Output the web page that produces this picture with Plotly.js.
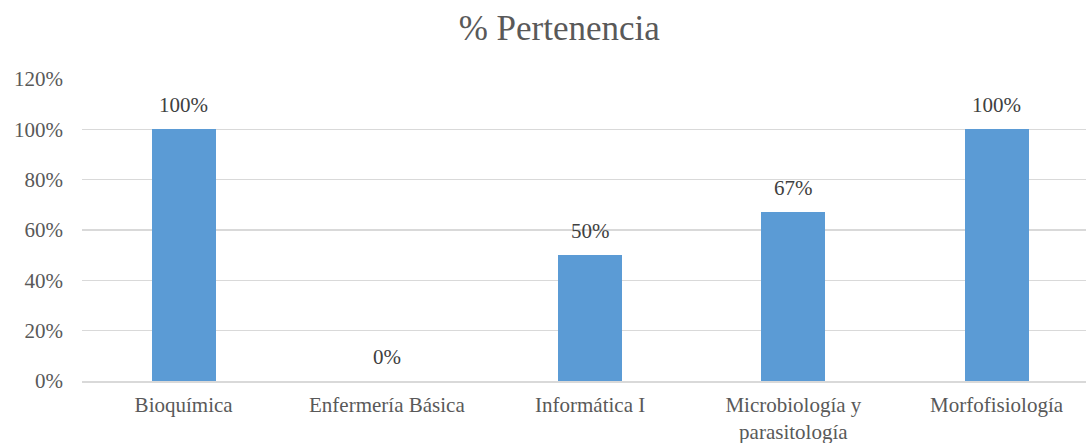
<!DOCTYPE html>
<html><head><meta charset="utf-8">
<script src="https://cdn.plot.ly/plotly-3.0.1.min.js"></script>
<style>body{margin:0;background:#fff}#c{width:1086px;height:443px}</style>
</head><body><div id="c"></div>
<script>
const categories = ["Bioquímica", "Enfermería Básica", "Informática I", "Microbiología y<br>parasitología", "Morfofisiología"];
const values = [1.00, 0.00, 0.50, 0.67, 1.00];
const labels = ["100%", "0%", "50%", "67%", "100%"];
const tickVals = [0, 0.2, 0.4, 0.6, 0.8, 1.0, 1.2];
const tickText = ["0%", "20%", "40%", "60%", "80%", "100%", "120%"];

const font = "Liberation Serif";
const xs = categories.map((_, i) => i);
Plotly.newPlot("c", [{
  type: "bar",
  x: xs,
  y: values,
  marker: {color: "#5b9bd5"},
  width: 0.315,
  hoverinfo: "none"
}], {
  width: 1086, height: 443,
  margin: {l: 82, r: 0, t: 79, b: 62},
  paper_bgcolor: "#fff", plot_bgcolor: "#fff",
  showlegend: false,
  title: {text: "% Pertenencia", font: {family: font, size: 35, color: "#595959"}, x: 0.515, xanchor: "center", y: 0.937, yanchor: "middle"},
  annotations: xs.map((x, i) => ({
    x: x, y: values[i], xref: "x", yref: "y",
    text: labels[i], showarrow: false, yanchor: "bottom", yshift: 10,
    font: {family: font, size: 21, color: "#404040"}
  })),
  xaxis: {
    range: [-0.5, 4.44],
    tickmode: "array", tickvals: xs, ticktext: categories,
    showgrid: false, zeroline: false,
    showline: true, linecolor: "#d9d9d9", linewidth: 1.5,
    ticks: "", ticklabelstandoff: 4,
    tickfont: {family: font, size: 21, color: "#595959"},
    fixedrange: true
  },
  yaxis: {
    range: [0, 1.2],
    tickmode: "array", tickvals: tickVals, ticktext: tickText,
    showgrid: true, gridcolor: "#d9d9d9", gridwidth: 1.5,
    zeroline: false, showline: false, ticks: "",
    ticklabelstandoff: 18,
    tickfont: {family: font, size: 21, color: "#595959"},
    fixedrange: true
  },
  bargap: 0
}, {displayModeBar: false, staticPlot: true});
</script>
</body></html>
